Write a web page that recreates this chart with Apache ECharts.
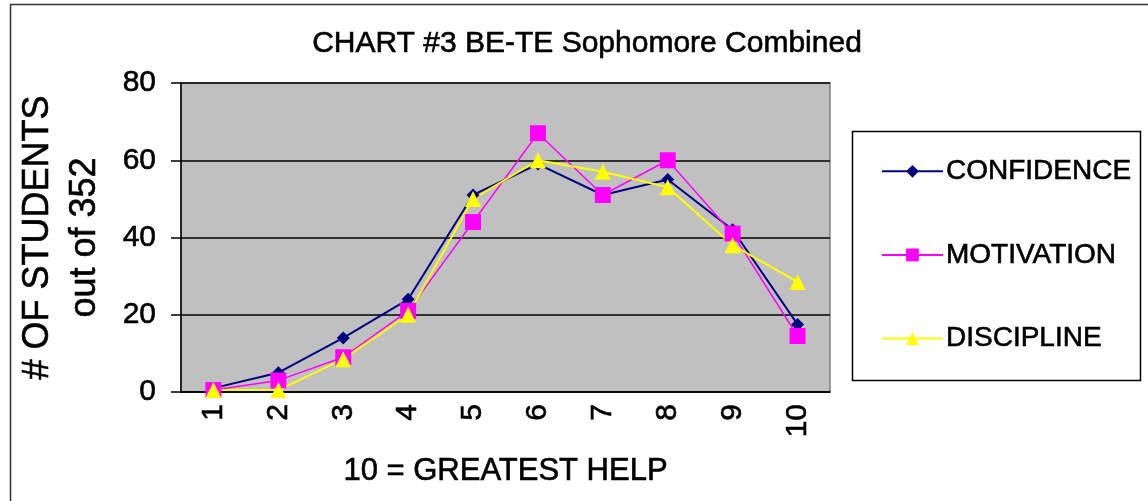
<!DOCTYPE html>
<html>
<head>
<meta charset="utf-8">
<style>
html,body{margin:0;padding:0;background:#fff;}
#c{width:1148px;height:501px;}
</style>
<script src="https://cdn.jsdelivr.net/npm/echarts@6/dist/echarts.min.js"></script>
</head>
<body>
<div id="c"></div>
<script>
var categories = ['1','2','3','4','5','6','7','8','9','10'];
var confidence = [1, 5, 14, 24, 51, 59, 51, 55, 42, 17.5];
var motivation = [0.5, 3, 9, 21, 44, 67, 51, 60, 41, 14.5];
var discipline = [0.5, 0.5, 8.5, 20, 50, 60, 57, 53, 38, 28.5];
var yTicks = [0, 20, 40, 60, 80];

var FONT = 'Liberation Sans, Arial, sans-serif';
function ts(size, extra) {
  var o = {fontFamily: FONT, fontSize: size, fontWeight: 'normal', color: '#000', textBorderColor: '#000', textBorderWidth: 0.6};
  for (var k in extra) o[k] = extra[k];
  return o;
}
var chart = echarts.init(document.getElementById('c'));
chart.setOption({
  backgroundColor: '#fff',
  animation: false,
  title: {
    text: 'CHART #3 BE-TE Sophomore Combined',
    left: 582, top: 24, textAlign: 'center',
    textStyle: ts(30)
  },
  legend: {
    orient: 'vertical',
    left: 876, top: 152,
    itemWidth: 61, itemHeight: 16, itemGap: 55,
    textStyle: ts(28, {lineHeight: 28, padding: [0,0,0,-2]}),
    data: ['CONFIDENCE', 'MOTIVATION', 'DISCIPLINE']
  },
  grid: {left: 181, right: 318, top: 83, bottom: 109, show: true, backgroundColor: '#C0C0C0', borderColor: '#808080', borderWidth: 1.5},
  xAxis: {
    type: 'category',
    data: categories,
    boundaryGap: true,
    name: '10 = GREATEST HELP',
    nameLocation: 'middle',
    nameGap: 64,
    nameTextStyle: ts(31),
    axisLine: {lineStyle: {color: '#000', width: 1.5}},
    axisTick: {inside: true, length: 10, lineStyle: {color: '#000', width: 1.5}},
    axisLabel: ts(30, {rotate: 90, margin: 12}),
    splitLine: {show: false}
  },
  yAxis: {
    type: 'value',
    min: yTicks[0], max: yTicks[yTicks.length - 1], interval: 20,
    name: '# OF STUDENTS\nout of 352',
    nameLocation: 'middle',
    nameRotate: 90,
    nameGap: 72,
    nameTextStyle: ts(36, {lineHeight: 47}),
    axisLine: {show: true, lineStyle: {color: '#000', width: 1.5}},
    axisTick: {show: true, inside: false, length: 10, lineStyle: {color: '#000', width: 1.5}},
    axisLabel: ts(30, {margin: 25}),
    splitLine: {show: true, lineStyle: {color: '#000', width: 1.5}}
  },
  graphic: [
    {type: 'rect', shape: {x: 10.5, y: 4.5, width: 1160, height: 530}, style: {fill: 'none', stroke: '#333', lineWidth: 1.5}, z: -1},
    {type: 'rect', shape: {x: 852.5, y: 131.5, width: 288, height: 249}, style: {fill: 'none', stroke: '#000', lineWidth: 1.5}, z: -1}
  ],
  series: [
    {name: 'CONFIDENCE', type: 'line', data: confidence, symbol: 'diamond', symbolSize: 13,
     itemStyle: {color: '#000080'}, lineStyle: {color: '#000080', width: 2}},
    {name: 'MOTIVATION', type: 'line', data: motivation, symbol: 'rect', symbolSize: 16,
     itemStyle: {color: '#FF00FF'}, lineStyle: {color: '#FF00FF', width: 1.5}},
    {name: 'DISCIPLINE', type: 'line', data: discipline, symbol: 'triangle', symbolSize: 16,
     itemStyle: {color: '#FFFF00'}, lineStyle: {color: '#FFFF00', width: 2}}
  ]
});
</script>
</body>
</html>
